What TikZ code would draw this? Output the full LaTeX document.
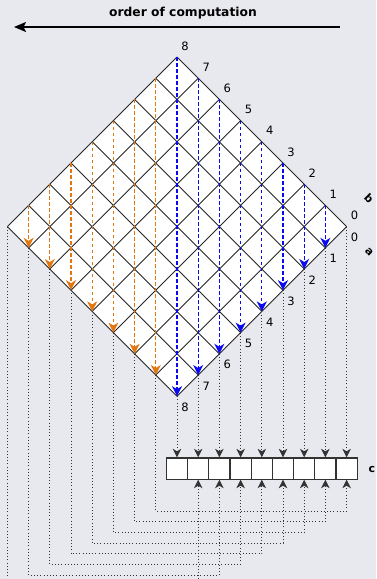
\documentclass[tikz,border=0pt]{standalone}
\usepackage{fontspec}
\setmainfont{DejaVu Sans}
\usetikzlibrary{arrows.meta}

\definecolor{bgtone}{RGB}{232,233,238}
\definecolor{sweeporange}{RGB}{228,118,16}
\definecolor{sweepblue}{RGB}{10,10,240}

\begin{document}
\begin{tikzpicture}[
  x=1pt, y=-1pt,
  >=Stealth,
  every node/.style={font=\fontsize{11.5}{13}\selectfont},
  gridline/.style={line width=0.9pt, black!85},
  sweep/.style={dash pattern=on 3.5pt off 2.5pt, line width=1.2pt,
                -{Stealth[length=10pt,width=10pt,inset=3pt]}},
  feed/.style={dash pattern=on 0.8pt off 2.4pt, line width=0.8pt, black!80,
               -{Stealth[length=8.5pt,width=8.5pt,inset=2.5pt]}},
  cell/.style={draw=black!80, line width=1.2pt, fill=white,
               minimum size=21.2pt, inner sep=0pt},
  tag/.style={font=\fontsize{11}{12}\selectfont\bfseries},
]
\useasboundingbox[fill=bgtone] (0,0) rectangle (376,579);

% title and direction arrow
\node[font=\fontsize{12.3}{14}\selectfont\bfseries] (title) at (183,13) {order of computation};
\coordinate (from) at (340,27);
\coordinate (to) at (14,27);
\draw[line width=1.6pt, -{Stealth[length=12pt,width=10pt,inset=2.5pt]}] (from) -- (to);

% grid points of the rotated square
\foreach \i in {0,...,8}
  \foreach \j in {0,...,8}
    \coordinate (p\i-\j) at ({177+(\i-\j)*21.2},{57+(\i+\j)*21.2});

\fill[white] (p0-0) -- (p8-0) -- (p8-8) -- (p0-8) -- cycle;
\foreach \k in {0,...,8} {
  \draw[gridline] (p\k-0) -- (p\k-8);
  \draw[gridline] (p0-\k) -- (p8-\k);
}

% sweeps down the columns
\foreach \k in {0,...,7} {
  \pgfmathtruncatemacro\m{8-\k}
  \draw[sweep, sweepblue] (p\k-0) -- (p8-\m);
}
\foreach \k in {1,...,7} {
  \pgfmathtruncatemacro\m{8-\k}
  \draw[sweep, sweeporange] (p0-\k) -- (p\m-8);
}

% edge indices
\foreach \k in {0,...,8} {
  \pgfmathtruncatemacro\m{8-\k}
  \node (bl\k) at ([shift={(8,-11)}]p\k-0) {\m};
  \node (al\k) at ([shift={(8,11)}]p8-\k) {\k};
}
\node[tag, rotate=-45] (b) at (369,198) {b};
\node[tag, rotate=-45] (a) at (369,252) {a};

% result row
\foreach \m in {0,...,8}
  \node[cell] (c\m) at ({177+\m*21.2},468.5) {};
\node[tag] (c) at (372,469) {c};

% feeds into the result row
\foreach \j in {0,...,8} {
  \pgfmathtruncatemacro\m{8-\j}
  \draw[feed] (p8-\j) -- (c\m.north);
}
\foreach \i in {0,...,7} {
  \pgfmathtruncatemacro\m{\i+1}
  \coordinate (h\i) at ({177+\m*21.2},{511+(7-\i)*10.7});
  \draw[feed] (p\i-8) |- (h\i) -- (c\m.south);
}
\end{tikzpicture}
\end{document}
